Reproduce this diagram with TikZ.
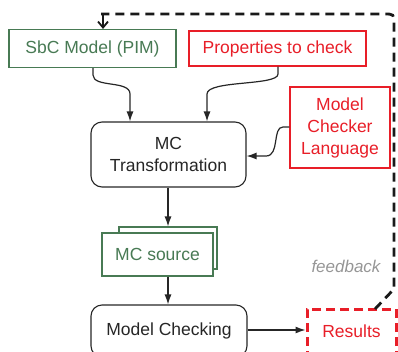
\documentclass[tikz,border=0pt]{standalone}
\usepackage{fontspec}
\setmainfont{Liberation Sans}
\usetikzlibrary{arrows.meta}
\definecolor{boxgreen}{RGB}{72,122,84}
\definecolor{boxred}{RGB}{232,30,40}
\definecolor{fbgray}{RGB}{150,150,150}
\begin{document}
\begin{tikzpicture}[x=1pt,y=-1pt,
  every node/.style={font=\fontsize{17.5}{22}\selectfont, inner sep=0pt, align=center},
  gbox/.style={draw=boxgreen, text=boxgreen, line width=1.1pt, fill=white},
  rbox/.style={draw=boxred, text=boxred, line width=1.1pt},
  pbox/.style={draw=black!85, text=black!85, line width=1.1pt, rounded corners=11pt},
  conn/.style={draw=black!85, line width=1.2pt, -{Latex[length=10pt,width=7pt]}},
  fb/.style={draw=black!90, line width=2.8pt, dash pattern=on 9pt off 6pt, line cap=butt}]
\useasboundingbox (0,0) rectangle (398,351);
\clip (0,0) rectangle (398,351);
% nodes
\node[gbox, minimum width=167pt, minimum height=38pt] (sbc) at (92.5,48.5) {SbC Model (PIM)};
\node[rbox, minimum width=177pt, minimum height=35pt] (prop) at (277.5,48.5) {Properties to check};
\node[rbox, minimum width=100pt, minimum height=81pt] (mcl) at (340,127.5) {Model\\Checker\\Language};
\node[pbox, minimum width=155pt, minimum height=65pt] (mct) at (168.5,154.5) {MC\\Transformation};
\node[gbox, minimum width=98pt, minimum height=42pt] (srcb) at (168,248) {};
\node[gbox, minimum width=111pt, minimum height=43pt] (src) at (157.5,254.5) {MC source};
\node[pbox, minimum width=156pt, minimum height=52pt] (mc) at (169,331) {Model Checking};
\node[rbox, dash pattern=on 9pt off 5pt, line width=3pt, minimum width=89pt, minimum height=46pt] (res) at (351.5,332) {\raisebox{2pt}{Results}};
\node[text=fbgray, font=\fontsize{17}{20}\selectfont\itshape] (fbl) at (346,266) {feedback};
% connectors
\draw[conn] (sbc.south -| 93,0) -- (93,75) .. controls (93,88) and (130,80) .. (130,94) -- (mct.north -| 130,0);
\draw[conn] (prop.south -| 278,0) -- (278,74) .. controls (278,86) and (207,80) .. (207,94) -- (mct.north -| 207,0);
\draw[conn] (mcl.west |- 0,127) -- (283,127) .. controls (272,127) and (280,156) .. (266,156) -- (mct.east |- 0,156);
\draw[conn] (mct.south -| 168,0) -- (srcb.north -| 168,0);
\draw[conn] (src.south -| 168,0) -- (mc.north -| 168,0);
\draw[conn] (mc.east |- 0,330) -- (res.west |- 0,330);
% feedback
\coordinate (f1) at (375,309);
\coordinate (f2) at (394,289);
\coordinate (f3) at (394,24);
\coordinate (f4) at (101,14);
\draw[fb] (f1) -- (f2) -- (f3) .. controls (394,14) .. (384,14) -- (f4);
\draw[black!90, line width=1.8pt, -{Straight Barb[length=6pt,width=10pt]}] (103,14) -- (sbc.north -| 103,0);
\end{tikzpicture}
\end{document}
